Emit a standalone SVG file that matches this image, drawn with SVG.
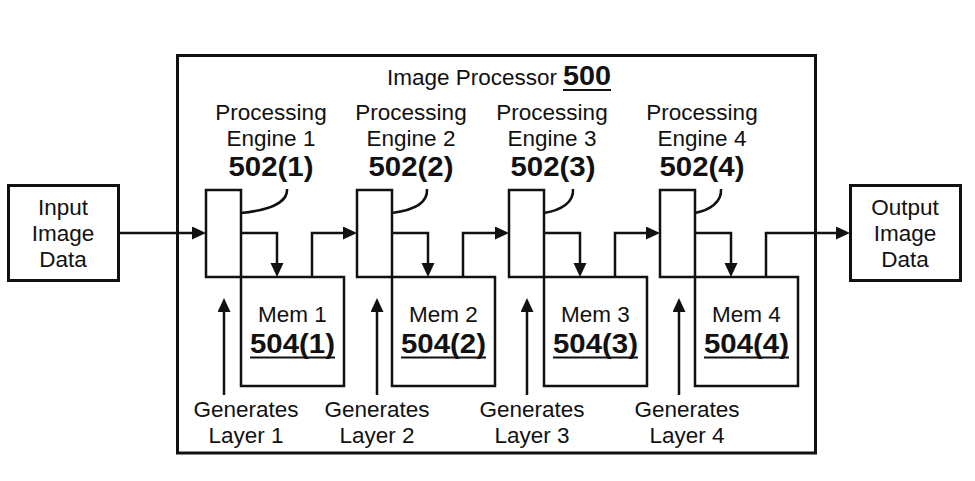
<svg xmlns="http://www.w3.org/2000/svg" width="975" height="481" viewBox="0 0 975 481">
<defs>
<style>
.t{font-family:"Liberation Sans",Arial,sans-serif;font-size:22.5px;fill:#111;text-anchor:middle}
.b{font-family:"Liberation Sans",Arial,sans-serif;font-size:27px;font-weight:bold;fill:#111;text-anchor:middle}
.box{fill:#fff;stroke:#111;stroke-width:2.5}
.io{fill:#fff;stroke:#111;stroke-width:3}
.ln{fill:none;stroke:#111;stroke-width:2.5}
.ul{stroke:#111;stroke-width:2}
</style>
<marker id="ah" markerUnits="userSpaceOnUse" markerWidth="15" markerHeight="14" refX="1" refY="6.5" orient="auto">
<path d="M0,0 L14,6.5 L0,13 z" fill="#111"/>
</marker>
</defs>
<rect width="975" height="481" fill="#fff"/>

<g id="image-processor">
<rect x="177.5" y="55.5" width="638" height="397.5" fill="none" stroke="#111" stroke-width="3"/>
<text class="t" x="557" y="85" style="text-anchor:end">Image Processor</text>
<text class="b" x="563" y="85" style="text-anchor:start" textLength="48" lengthAdjust="spacingAndGlyphs">500</text>
<line class="ul" x1="563" y1="90" x2="611" y2="90"/>
</g>

<g id="input">
<rect class="io" x="8.5" y="185.5" width="110" height="95"/>
<text class="t" x="63" y="215">Input</text>
<text class="t" x="63" y="241">Image</text>
<text class="t" x="63" y="267">Data</text>
</g>

<g id="output">
<rect class="io" x="850.5" y="185.5" width="110" height="95"/>
<text class="t" x="905" y="215">Output</text>
<text class="t" x="905" y="241">Image</text>
<text class="t" x="905" y="267">Data</text>
</g>

<g id="engine1">
<rect class="box" x="206" y="190" width="35" height="87"/>
<text class="t" x="271" y="120">Processing</text>
<text class="t" x="271" y="146">Engine 1</text>
<text class="b" x="271" y="176" textLength="85" lengthAdjust="spacingAndGlyphs">502(1)</text>
</g>
<g id="mem1">
<rect class="box" x="241" y="277" width="103" height="109"/>
<text class="t" x="292.5" y="322">Mem 1</text>
<text class="b" x="292.5" y="353" textLength="85" lengthAdjust="spacingAndGlyphs">504(1)</text>
<line class="ul" x1="250" y1="357.5" x2="335" y2="357.5"/>
</g>
<g id="gen1">
<text class="t" x="246" y="417">Generates</text>
<text class="t" x="246" y="443">Layer 1</text>
</g>

<g id="engine2">
<rect class="box" x="357" y="190" width="35" height="87"/>
<text class="t" x="411" y="120">Processing</text>
<text class="t" x="411" y="146">Engine 2</text>
<text class="b" x="411" y="176" textLength="85" lengthAdjust="spacingAndGlyphs">502(2)</text>
</g>
<g id="mem2">
<rect class="box" x="392" y="277" width="103" height="109"/>
<text class="t" x="443.5" y="322">Mem 2</text>
<text class="b" x="443.5" y="353" textLength="85" lengthAdjust="spacingAndGlyphs">504(2)</text>
<line class="ul" x1="401" y1="357.5" x2="486" y2="357.5"/>
</g>
<g id="gen2">
<text class="t" x="377" y="417">Generates</text>
<text class="t" x="377" y="443">Layer 2</text>
</g>

<g id="engine3">
<rect class="box" x="509" y="190" width="35" height="87"/>
<text class="t" x="552" y="120">Processing</text>
<text class="t" x="552" y="146">Engine 3</text>
<text class="b" x="553" y="176" textLength="85" lengthAdjust="spacingAndGlyphs">502(3)</text>
</g>
<g id="mem3">
<rect class="box" x="544" y="277" width="103" height="109"/>
<text class="t" x="595.5" y="322">Mem 3</text>
<text class="b" x="595.5" y="353" textLength="85" lengthAdjust="spacingAndGlyphs">504(3)</text>
<line class="ul" x1="553" y1="357.5" x2="638" y2="357.5"/>
</g>
<g id="gen3">
<text class="t" x="532" y="417">Generates</text>
<text class="t" x="532" y="443">Layer 3</text>
</g>

<g id="engine4">
<rect class="box" x="660" y="190" width="35" height="87"/>
<text class="t" x="702" y="120">Processing</text>
<text class="t" x="702" y="146">Engine 4</text>
<text class="b" x="702" y="176" textLength="85" lengthAdjust="spacingAndGlyphs">502(4)</text>
</g>
<g id="mem4">
<rect class="box" x="695" y="277" width="103" height="109"/>
<text class="t" x="746.5" y="322">Mem 4</text>
<text class="b" x="746.5" y="353" textLength="85" lengthAdjust="spacingAndGlyphs">504(4)</text>
<line class="ul" x1="704" y1="357.5" x2="789" y2="357.5"/>
</g>
<g id="gen4">
<text class="t" x="687" y="417">Generates</text>
<text class="t" x="687" y="443">Layer 4</text>
</g>

<g id="connectors">
<path class="ln" d="M241,213 C270,210 288,202 287,189"/>
<path class="ln" d="M392,213 C415,210 428,202 427,189"/>
<path class="ln" d="M544,213 C562,210 574,202 573,189"/>
<path class="ln" d="M695,213 C710,210 722,202 721,189"/>

<path class="ln" d="M119,233 H193" marker-end="url(#ah)"/>
<path class="ln" d="M241,233 H277 V264" marker-end="url(#ah)"/>
<path class="ln" d="M312,277 V233 H344" marker-end="url(#ah)"/>
<path class="ln" d="M392,233 H428 V264" marker-end="url(#ah)"/>
<path class="ln" d="M463,277 V233 H496" marker-end="url(#ah)"/>
<path class="ln" d="M544,233 H580 V264" marker-end="url(#ah)"/>
<path class="ln" d="M615,277 V233 H647" marker-end="url(#ah)"/>
<path class="ln" d="M695,233 H731 V264" marker-end="url(#ah)"/>
<path class="ln" d="M766,277 V233 H837" marker-end="url(#ah)"/>

<path class="ln" d="M224,395 V311" marker-end="url(#ah)"/>
<path class="ln" d="M377,395 V311" marker-end="url(#ah)"/>
<path class="ln" d="M527,395 V311" marker-end="url(#ah)"/>
<path class="ln" d="M679,395 V311" marker-end="url(#ah)"/>
</g>
</svg>
